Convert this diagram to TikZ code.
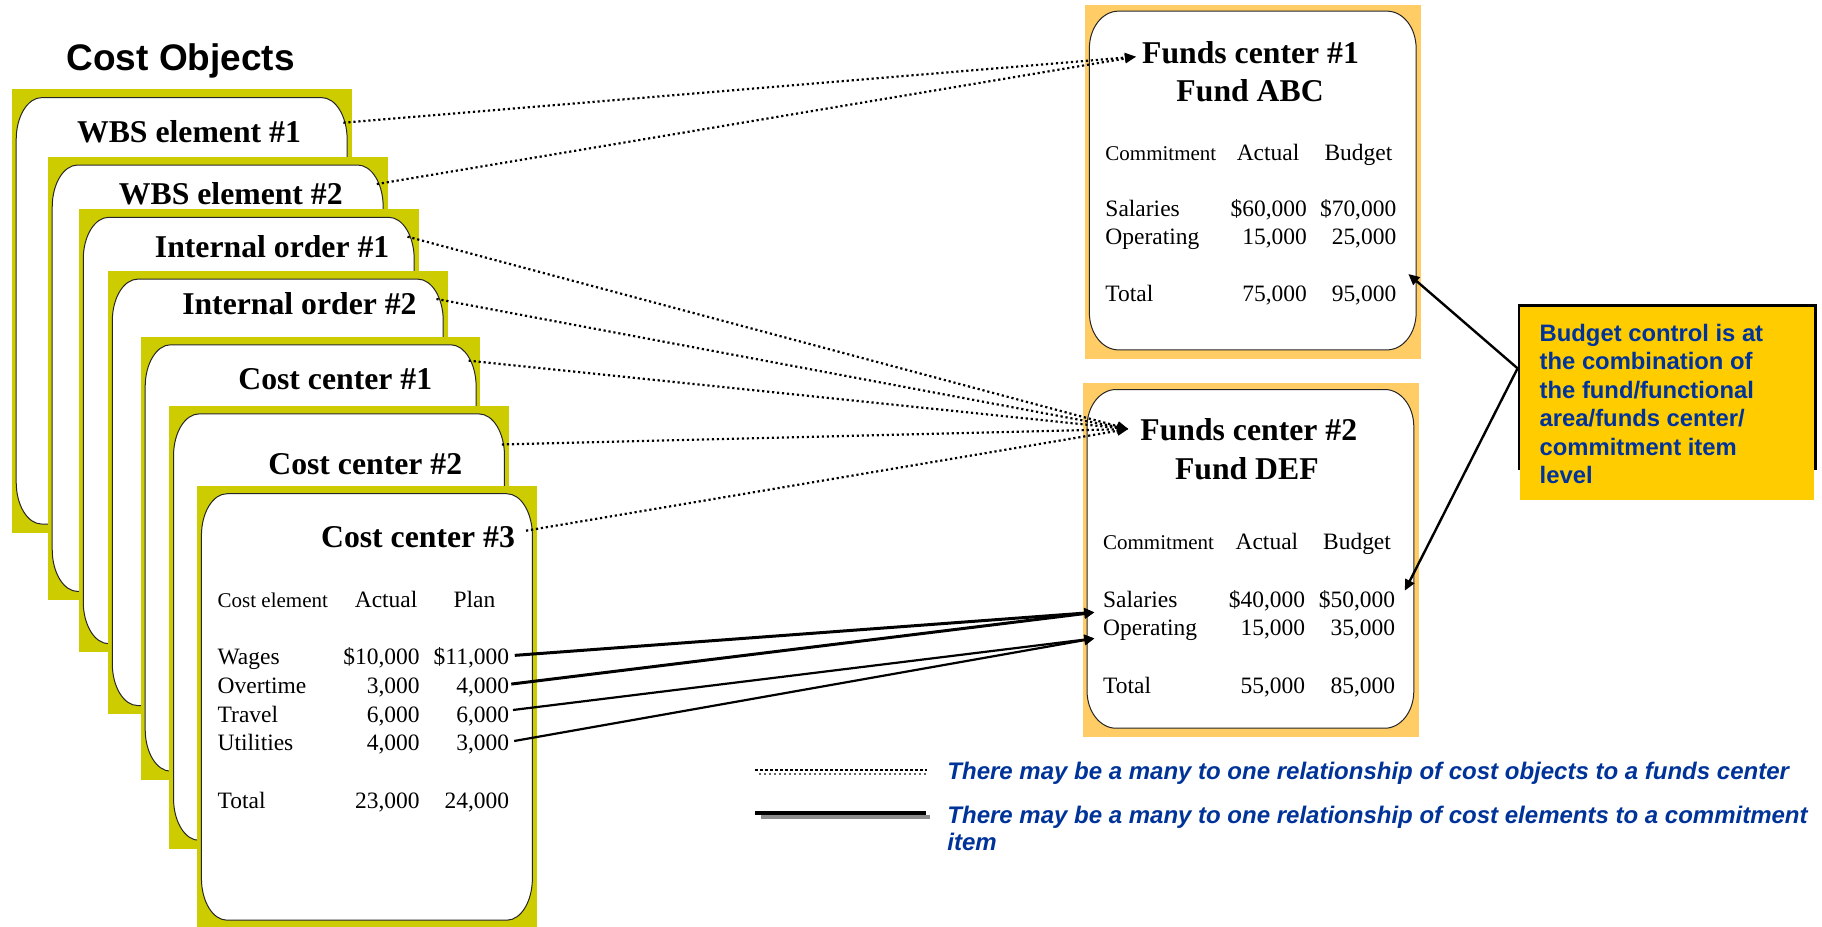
\documentclass[tikz,border=0pt]{standalone}
\usepackage{fontspec}
\setmainfont{Liberation Serif}
\newfontfamily\arialfont{Liberation Sans}
\usetikzlibrary{arrows.meta,calc}

\definecolor{cardyellow}{RGB}{204,204,0}
\definecolor{fundframe}{RGB}{255,204,102}
\definecolor{notegold}{RGB}{255,204,0}
\definecolor{noteblue}{RGB}{0,51,153}

\tikzset{
  % yellow backing of a cost-object sheet with its white rounded face
  % (path picture coordinates are taken from the node centre)
  card/.style={rectangle, fill=cardyellow, draw=none, inner sep=0pt, outer sep=0pt,
    anchor=north west, minimum width=292.3*0.581pt, minimum height=381.5*0.581pt,
    path picture={\draw[fill=white, draw=black!85, line width=0.5pt]
      (-142.4,-147.75) .. controls (-142.4,-167.65) and (-132.55,-183.75) .. (-120.4,-183.75)
      -- (120.4,-183.75) .. controls (132.55,-183.75) and (142.4,-167.65) .. (142.4,-147.75)
      -- (142.4,147.25) .. controls (142.4,167.15) and (132.55,183.25) .. (120.4,183.25)
      -- (-120.4,183.25) .. controls (-132.55,183.25) and (-142.4,167.15) .. (-142.4,147.25)
      -- cycle;}},
  % orange backing of a funds-center sheet
  fundbox/.style={rectangle, fill=fundframe, draw=none, inner sep=0pt, outer sep=0pt,
    anchor=north west, minimum width=289.2*0.581pt, minimum height=304.4*0.581pt,
    path picture={\draw[fill=white, draw=black!85, line width=0.5pt]
      (-140.8,-114.9) .. controls (-140.8,-132.6) and (-129.6,-146.9) .. (-115.8,-146.9)
      -- (115.4,-146.9) .. controls (129.2,-146.9) and (140.4,-132.6) .. (140.4,-114.9)
      -- (140.4,112.6) .. controls (140.4,130.3) and (129.2,144.6) .. (115.4,144.6)
      -- (-115.8,144.6) .. controls (-129.6,144.6) and (-140.8,130.3) .. (-140.8,112.6)
      -- cycle;}},
  cardtitle/.style={anchor=base west, inner sep=0pt, font=\fontsize{15.86pt}{19pt}\selectfont\bfseries},
  fctitle/.style={cardtitle, anchor=base},
  cell/.style={anchor=base west, inner sep=0pt, font=\fontsize{11.74pt}{14pt}\selectfont},
  num/.style={cell, anchor=base east},
  colhead/.style={cell, font=\fontsize{10.5pt}{12.6pt}\selectfont},
  objlink/.style={line width=1.1pt, dash pattern=on 1.1pt off 1.4pt,
    -{Triangle[length=5.5pt,width=4.6pt]}},
  elemlink/.style={line width=1.5pt, -{Triangle[length=5pt,width=5pt]}},
  elemlinkthin/.style={elemlink, line width=1.1pt},
  notelink/.style={line width=1.2pt, -{Triangle[length=5.5pt,width=5pt]}},
  legendtext/.style={inner sep=0pt, text=noteblue,
    font=\arialfont\fontsize{12pt}{13.9pt}\selectfont\bfseries\itshape},
}

\begin{document}
\begin{tikzpicture}[x=0.581pt, y=-0.581pt]
\useasboundingbox (0,0) rectangle (1568,797);
\fill[white] (0,0) rectangle (1568,797);

% ---------------- cost objects ----------------
\node[anchor=base west, inner sep=0pt, font=\arialfont\fontsize{18.5pt}{22pt}\selectfont\bfseries]
  (costobj) at (57,61) {Cost Objects};

\node[card] (wbs1) at (10.2,77) {};
\node[cardtitle] (wbs1title) at (66,122.8) {WBS element \#1};
\node[card] (wbs2) at (41.2,135) {};
\node[cardtitle] (wbs2title) at (102,175.6) {WBS element \#2};
\node[card] (io1) at (67.9,180) {};
\node[cardtitle] (io1title) at (133,221.5) {Internal order \#1};
\node[card] (io2) at (92.9,233.2) {};
\node[cardtitle] (io2title) at (156.5,271) {Internal order \#2};
\node[card] (cc1) at (121.2,289.7) {};
\node[cardtitle] (cc1title) at (204.8,335.5) {Cost center \#1};
\node[card] (cc2) at (145.6,349.2) {};
\node[cardtitle] (cc2title) at (230.6,408.4) {Cost center \#2};
\node[card] (cc3) at (169.6,417.9) {};
\node[cardtitle] (cc3title) at (276,471.2) {Cost center \#3};

% cost center #3 table
\node[colhead] (cehead) at (187,523) {Cost element};
\node[cell] (ceacthead) at (305,523) {Actual};
\node[cell] (ceplanhead) at (390,523) {Plan};
\node[cell] (wages) at (187,572) {Wages};
\node[num] (wagesact) at (361.5,572) {\$10,000};
\node[num] (wagesplan) at (438.5,572) {\$11,000};
\node[cell] (overtime) at (187,597) {Overtime};
\node[num] (overtimeact) at (361.5,597) {3,000};
\node[num] (overtimeplan) at (438.5,597) {4,000};
\node[cell] (travel) at (187,621.5) {Travel};
\node[num] (travelact) at (361.5,621.5) {6,000};
\node[num] (travelplan) at (438.5,621.5) {6,000};
\node[cell] (utilities) at (187,646) {Utilities};
\node[num] (utilitiesact) at (361.5,646) {4,000};
\node[num] (utilitiesplan) at (438.5,646) {3,000};
\node[cell] (cctotal) at (187,696) {Total};
\node[num] (cctotalact) at (361.5,696) {23,000};
\node[num] (cctotalplan) at (438.5,696) {24,000};

% ---------------- funds center #1 ----------------
\node[fundbox] (fc1) at (933.7,4.3) {};
\node[fctitle] (fc1title) at (1076.2,54.5) {Funds center \#1};
\node[fctitle] (fc1fund) at (1075.8,87.5) {Fund ABC};
\node[colhead] (fc1commit) at (951,137.7) {Commitment};
\node[cell] (fc1acthead) at (1064,137.7) {Actual};
\node[cell] (fc1budhead) at (1139.5,137.7) {Budget};
\node[cell] (fc1sal) at (951,186.5) {Salaries};
\node[num] (fc1salact) at (1125,186.5) {\$60,000};
\node[num] (fc1salbud) at (1202,186.5) {\$70,000};
\node[cell] (fc1op) at (951,210.8) {Operating};
\node[num] (fc1opact) at (1125,210.8) {15,000};
\node[num] (fc1opbud) at (1202,210.8) {25,000};
\node[cell] (fc1tot) at (951,259.6) {Total};
\node[num] (fc1totact) at (1125,259.6) {75,000};
\node[num] (fc1totbud) at (1202,259.6) {95,000};

% ---------------- funds center #2 ----------------
\node[fundbox] (fc2) at (931.7,329.9) {};
\node[fctitle] (fc2title) at (1074.7,379.5) {Funds center \#2};
\node[fctitle] (fc2fund) at (1073,413) {Fund DEF};
\node[colhead] (fc2commit) at (949,473.3) {Commitment};
\node[cell] (fc2acthead) at (1063,473.3) {Actual};
\node[cell] (fc2budhead) at (1138.3,473.3) {Budget};
\node[cell] (fc2sal) at (949,522.7) {Salaries};
\node[num] (fc2salact) at (1123.5,522.7) {\$40,000};
\node[num] (fc2salbud) at (1201,522.7) {\$50,000};
\node[cell] (fc2op) at (949,547) {Operating};
\node[num] (fc2opact) at (1123.5,547) {15,000};
\node[num] (fc2opbud) at (1201,547) {35,000};
\node[cell] (fc2tot) at (949,596.7) {Total};
\node[num] (fc2totact) at (1123.5,596.7) {55,000};
\node[num] (fc2totbud) at (1201,596.7) {85,000};

% ---------------- budget control note ----------------
\node[rectangle, fill=black, inner sep=0pt, anchor=north west,
  minimum width=257.4*0.581pt, minimum height=142.9*0.581pt] (noteframe) at (1306,261.6) {};
\node[rectangle, fill=notegold, inner sep=0pt, anchor=north west,
  minimum width=253*0.581pt, minimum height=166.3*0.581pt] (notebox) at (1308,264) {};
\node[anchor=north west, inner sep=0pt, align=left, text=noteblue,
  font=\arialfont\fontsize{11.9pt}{14.24pt}\selectfont\bfseries] (note) at (1324.7,278.4)
  {Budget control is at\\the combination of\\the fund/functional\\area/funds center/\\commitment item\\level};

% ---------------- connector end points ----------------
\coordinate (wbs1out) at ($(wbs1.north east)+(-7,28.6)$);
\coordinate (wbs2out) at ($(wbs2.north east)+(-9.2,23.4)$);
\coordinate (io1out) at ($(io1.north east)+(-9.5,23.7)$);
\coordinate (io2out) at ($(io2.north east)+(-9.6,24.1)$);
\coordinate (cc1out) at ($(cc1.north east)+(-10.2,20.7)$);
\coordinate (cc2out) at ($(cc2.north east)+(-6,33.3)$);
\coordinate (cc3out) at ($(cc3.north east)+(-9.2,38.8)$);
\coordinate (fc1in) at ($(fc1.north west)+(43.9,44.5)$);
\coordinate (fc2in) at ($(fc2.north west)+(39.3,39.3)$);
\coordinate (wagesout) at ($(wagesplan.base east)+(4.5,-8)$);
\coordinate (overtimeout) at ($(overtimeplan.base east)+(1.5,-8.3)$);
\coordinate (travelout) at ($(travelplan.base east)+(3,-10.5)$);
\coordinate (utilitiesout) at ($(utilitiesplan.base east)+(4,-8.3)$);
\coordinate (salin) at ($(fc2sal.base west)+(-7.2,4.3)$);
\coordinate (opin) at ($(fc2op.base west)+(-7.2,2.4)$);
\coordinate (notejoin) at ($(noteframe.north west)+(0,55.4)$);
\coordinate (fc1note) at ($(fc1.north west)+(278.3,231.5)$);
\coordinate (fc2note) at ($(fc2.north west)+(277.3,178.4)$);

% cost objects to funds centers
\draw[objlink] (wbs1out) -- (fc1in);
\draw[objlink] (wbs2out) -- (fc1in);
\draw[objlink] (io1out) -- (fc2in);
\draw[objlink] (io2out) -- (fc2in);
\draw[objlink] (cc1out) -- (fc2in);
\draw[objlink] (cc2out) -- (fc2in);
\draw[objlink] (cc3out) -- (fc2in);

% cost elements to commitment items
\draw[elemlink] (wagesout) -- (salin);
\draw[elemlink] (overtimeout) -- (salin);
\draw[elemlinkthin] (travelout) -- (opin);
\draw[elemlinkthin] (utilitiesout) -- (opin);

% note to both funds centers
\draw[notelink] (notejoin) -- (fc1note);
\draw[notelink] (notejoin) -- (fc2note);

% ---------------- legend ----------------
\coordinate (dotsA) at (650,662.5);
\coordinate (dotsB) at (798,662.5);
\coordinate (dotsC) at (651,666);
\coordinate (dotsD) at (799,666);
\draw[line width=1.1pt, dash pattern=on 1.1pt off 1.4pt] (dotsA) -- (dotsB);
\draw[black!60, line width=1.1pt, dash pattern=on 1.1pt off 1.4pt, dash phase=1.25pt] (dotsC) -- (dotsD);
\coordinate (solidA) at (655,703);
\coordinate (solidB) at (800,703);
\coordinate (solidC) at (650,699.5);
\coordinate (solidD) at (797,699.5);
\draw[black!45, line width=1.8pt] (solidA) -- (solidB);
\draw[line width=1.8pt] (solidC) -- (solidD);

\node[legendtext, anchor=base west] (legendobj) at (815,671)
  {There may be a many to one relationship of cost objects to a funds center};
\node[legendtext, anchor=north west, align=left] (legendelem) at (815,693)
  {There may be a many to one relationship of cost elements to a commitment\\item};
\end{tikzpicture}
\end{document}
